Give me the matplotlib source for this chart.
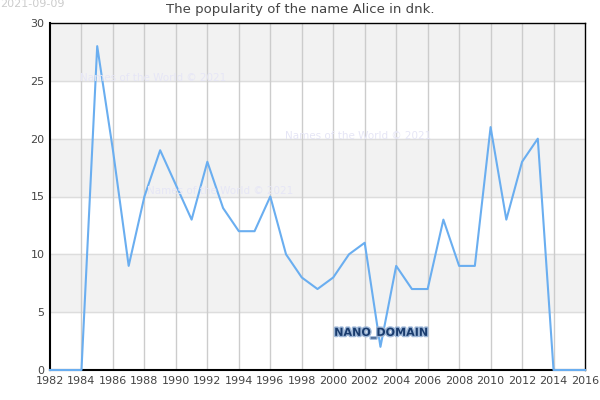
import matplotlib
matplotlib.use("Agg")
import matplotlib.pyplot as plt
import matplotlib.patheffects as pe

years = list(range(1982, 2017))
values = [0, 0, 0, 28, 19, 9, 15, 19, 16, 13, 18, 14, 12, 12, 15, 10, 8, 7, 8, 10,
          11, 2, 9, 7, 7, 13, 9, 9, 21, 13, 18, 20, 0, 0, 0]
xticks = list(range(1982, 2017, 2))
yticks = [0, 5, 10, 15, 20, 25, 30]
title = "The popularity of the name Alice in dnk."

fig = plt.figure(figsize=(6, 4), dpi=100)
ax = fig.add_axes([50/600, 30/400, 535/600, 347/400])
ax.set_xlim(1982, 2016)
ax.set_ylim(0, 30)

for i, lo in enumerate(yticks[:-1]):
    if i % 2 == 1:
        ax.axhspan(lo, yticks[i+1], color="#f2f2f2", zorder=0)
for y in yticks[1:-1]:
    ax.axhline(y, color="#dddddd", lw=1, zorder=1)
for x in xticks[1:-1]:
    ax.axvline(x, color="#cccccc", lw=1, zorder=1)

ax.plot(years, values, color="#6aaef0", lw=1.5, zorder=4, clip_on=False)

ax.set_xticks(xticks)
ax.set_yticks(yticks)
ax.tick_params(labelsize=8, colors="#444444", length=0, pad=4)
for s in ax.spines.values():
    s.set_color("black")
    s.set_linewidth(1)
    s.set_zorder(3)
ax.spines["left"].set_linewidth(1.5)
ax.spines["bottom"].set_linewidth(1.5)

fig.text(0.5, 1 - 10/400, title, ha="center", va="center", fontsize=9.5, color="#444444")
fig.text(0.0, 1 - 4/400, "2021-09-09", ha="left", va="center", fontsize=8, color="#cccccc")

wm = "Names of the World © 2021"
for (px, py) in [(153, 78), (358, 136), (220, 191)]:
    fig.text(px/600, 1 - py/400, wm, ha="center", va="center", fontsize=7.5,
             color="#e6e6f6", zorder=2)

fig.text(381/600, 1 - 333/400, "NANO_DOMAIN", ha="center", va="center", fontsize=8,
         color="#1a3c6e", weight="bold",
         path_effects=[pe.withStroke(linewidth=2, foreground="#9fb8d8")], zorder=5)

fig.savefig("out.png", dpi=100)
